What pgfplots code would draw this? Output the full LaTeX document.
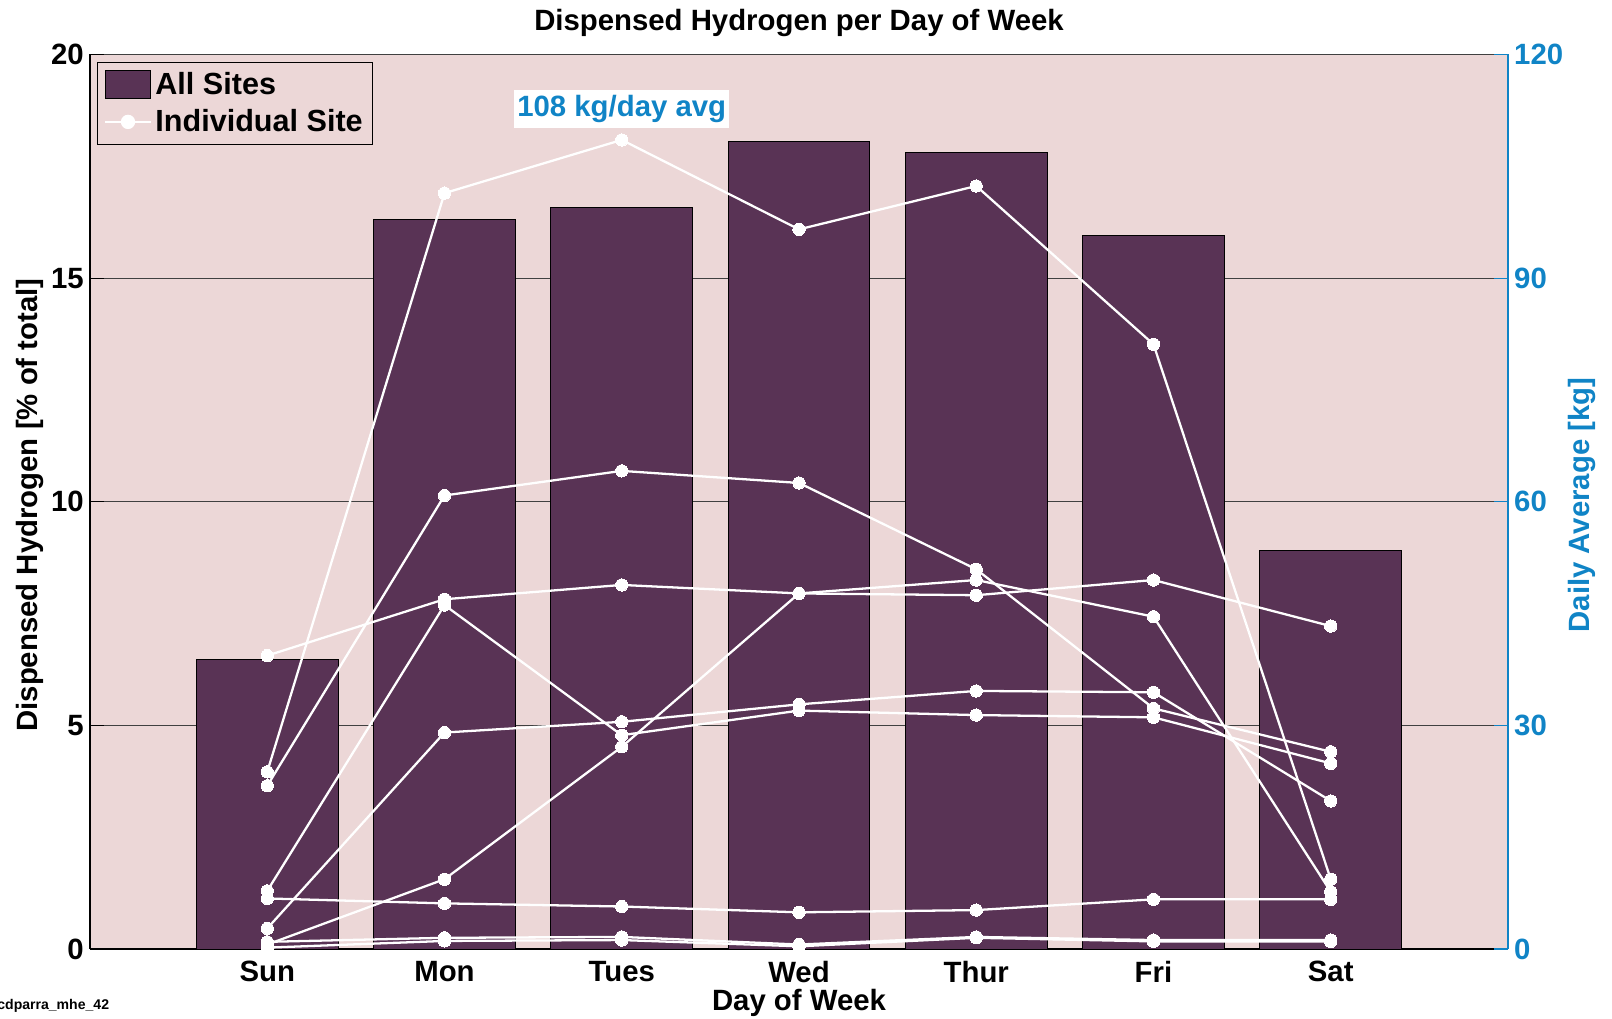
\documentclass[border=0pt]{standalone}
\usepackage{pgfplots}
\pgfplotsset{compat=1.18}
\usepackage{fontspec}
\setmainfont{Liberation Sans}
\definecolor{bgpink}{RGB}{236,215,215}
\definecolor{barcol}{RGB}{89,51,85}
\definecolor{bluec}{RGB}{16,132,198}
\newcommand\ff{\fontsize{16.7pt}{20pt}\selectfont\bfseries}
\newcommand\lf{\fontsize{17.4pt}{20pt}\selectfont\bfseries}
\pgfplotsset{site/.style={white, line width=1.3pt, mark=*, mark size=3.5pt, mark options={fill=white, draw=white, line width=0pt}}}
\begin{document}
\begin{tikzpicture}
\begin{axis}[
 scale only axis, width=283.6mm, height=178.9mm,
 xmin=0, xmax=8, ymin=0, ymax=20,
 axis x line*=bottom, axis y line*=left,
 axis line style={-, black, line width=0.6pt},
 xtick={1,...,7}, xticklabels={Sun,Mon,Tues,Wed,Thur,Fri,Sat},
 ytick={0,5,...,20},
 tick align=inside, major tick length=2.8mm, tick style={black, line width=0.6pt},
 ticklabel style={font=\ff},
 xticklabel style={yshift=-1.2mm},
 /pgf/number format/assume math mode=true,
 ymajorgrids, major grid style={black!75, line width=0.5pt},
 axis background/.style={fill=bgpink},
 clip=false,
 legend style={at={(0.005,0.992)}, anchor=north west, fill=bgpink, draw=black, line width=0.6pt, font=\lf, inner xsep=1.3mm, inner ysep=1.3mm, row sep=1.1mm},
 legend cell align=left,
]
\addplot[ybar, bar width=0.8, fill=barcol, draw=black, line width=0.5pt,
  legend image code/.code={\draw[fill=barcol,draw=black,line width=0.5pt] (0mm,-2.85mm) rectangle (9.1mm,2.85mm);}]
 coordinates {(1,6.47) (2,16.32) (3,16.58) (4,18.06) (5,17.81) (6,15.96) (7,8.92)};
\addlegendentry{All Sites}
\addplot[site, legend image code/.code={\draw[white,line width=1.3pt](0mm,0mm)--(9.1mm,0mm); \fill[white](4.55mm,0mm) circle (1.2mm);}]
 coordinates {(1,3.96) (2,16.90) (3,18.09) (4,16.09) (5,17.06) (6,13.52) (7,1.56)};
\addlegendentry{Individual Site}
\addplot[site, forget plot] coordinates {(1,3.65) (2,10.14) (3,10.69) (4,10.42) (5,8.49) (6,5.38) (7,4.41)};
\addplot[site, forget plot] coordinates {(1,6.56) (2,7.82) (3,8.14) (4,7.95) (5,7.91) (6,8.25) (7,7.22)};
\addplot[site, forget plot] coordinates {(1,1.30) (2,7.69) (3,4.78) (4,5.33) (5,5.23) (6,5.18) (7,4.15)};
\addplot[site, forget plot] coordinates {(1,0.46) (2,4.84) (3,5.08) (4,5.47) (5,5.77) (6,5.74) (7,3.31)};
\addplot[site, forget plot] coordinates {(1,0.10) (2,1.56) (3,4.52) (4,7.95) (5,8.25) (6,7.43) (7,1.28)};
\addplot[site, forget plot] coordinates {(1,1.13) (2,1.02) (3,0.95) (4,0.82) (5,0.87) (6,1.11) (7,1.11)};
\addplot[site, forget plot] coordinates {(1,0.16) (2,0.25) (3,0.27) (4,0.10) (5,0.27) (6,0.20) (7,0.20)};
\addplot[site, forget plot] coordinates {(1,0.03) (2,0.18) (3,0.20) (4,0.06) (5,0.25) (6,0.17) (7,0.17)};
\node[fill=white, text=bluec, font=\ff, inner xsep=0.6mm, inner ysep=1.1mm] at (axis cs:3,18.78) {108 kg/day avg};
\end{axis}
\begin{axis}[
 scale only axis, width=283.6mm, height=178.9mm,
 xmin=0, xmax=8, ymin=0, ymax=120,
 axis x line=none, axis y line*=right,
 y axis line style={-, draw=bluec, line width=0.6pt},
 ytick={0,30,...,120},
 tick align=inside, major tick length=2.8mm, ytick style={draw=bluec, line width=0.6pt},
 yticklabel style={font=\ff, text=bluec},
 /pgf/number format/assume math mode=true,
]
\addplot[draw=none] coordinates {(0,0)};
\end{axis}
\node[font=\ff] at (141.8mm,185.3mm) {Dispensed Hydrogen per Day of Week};
\node[font=\ff] at (141.8mm,-10.8mm) {Day of Week};
\node[font=\ff, rotate=90] at (-12.0mm,88.8mm) {Dispensed Hydrogen [\% of total]};
\node[font=\ff, rotate=90, text=bluec] at (298.4mm,88.8mm) {Daily Average [kg]};
\node[font=\fontsize{8pt}{9.6pt}\selectfont\bfseries, anchor=base west, inner sep=0pt] at (-18.6mm,-12.2mm) {cdparra\_mhe\_42};
\pgfresetboundingbox
\path (-18mm,-14mm) rectangle (304.4mm,189.8mm);
\end{tikzpicture}
\end{document}
